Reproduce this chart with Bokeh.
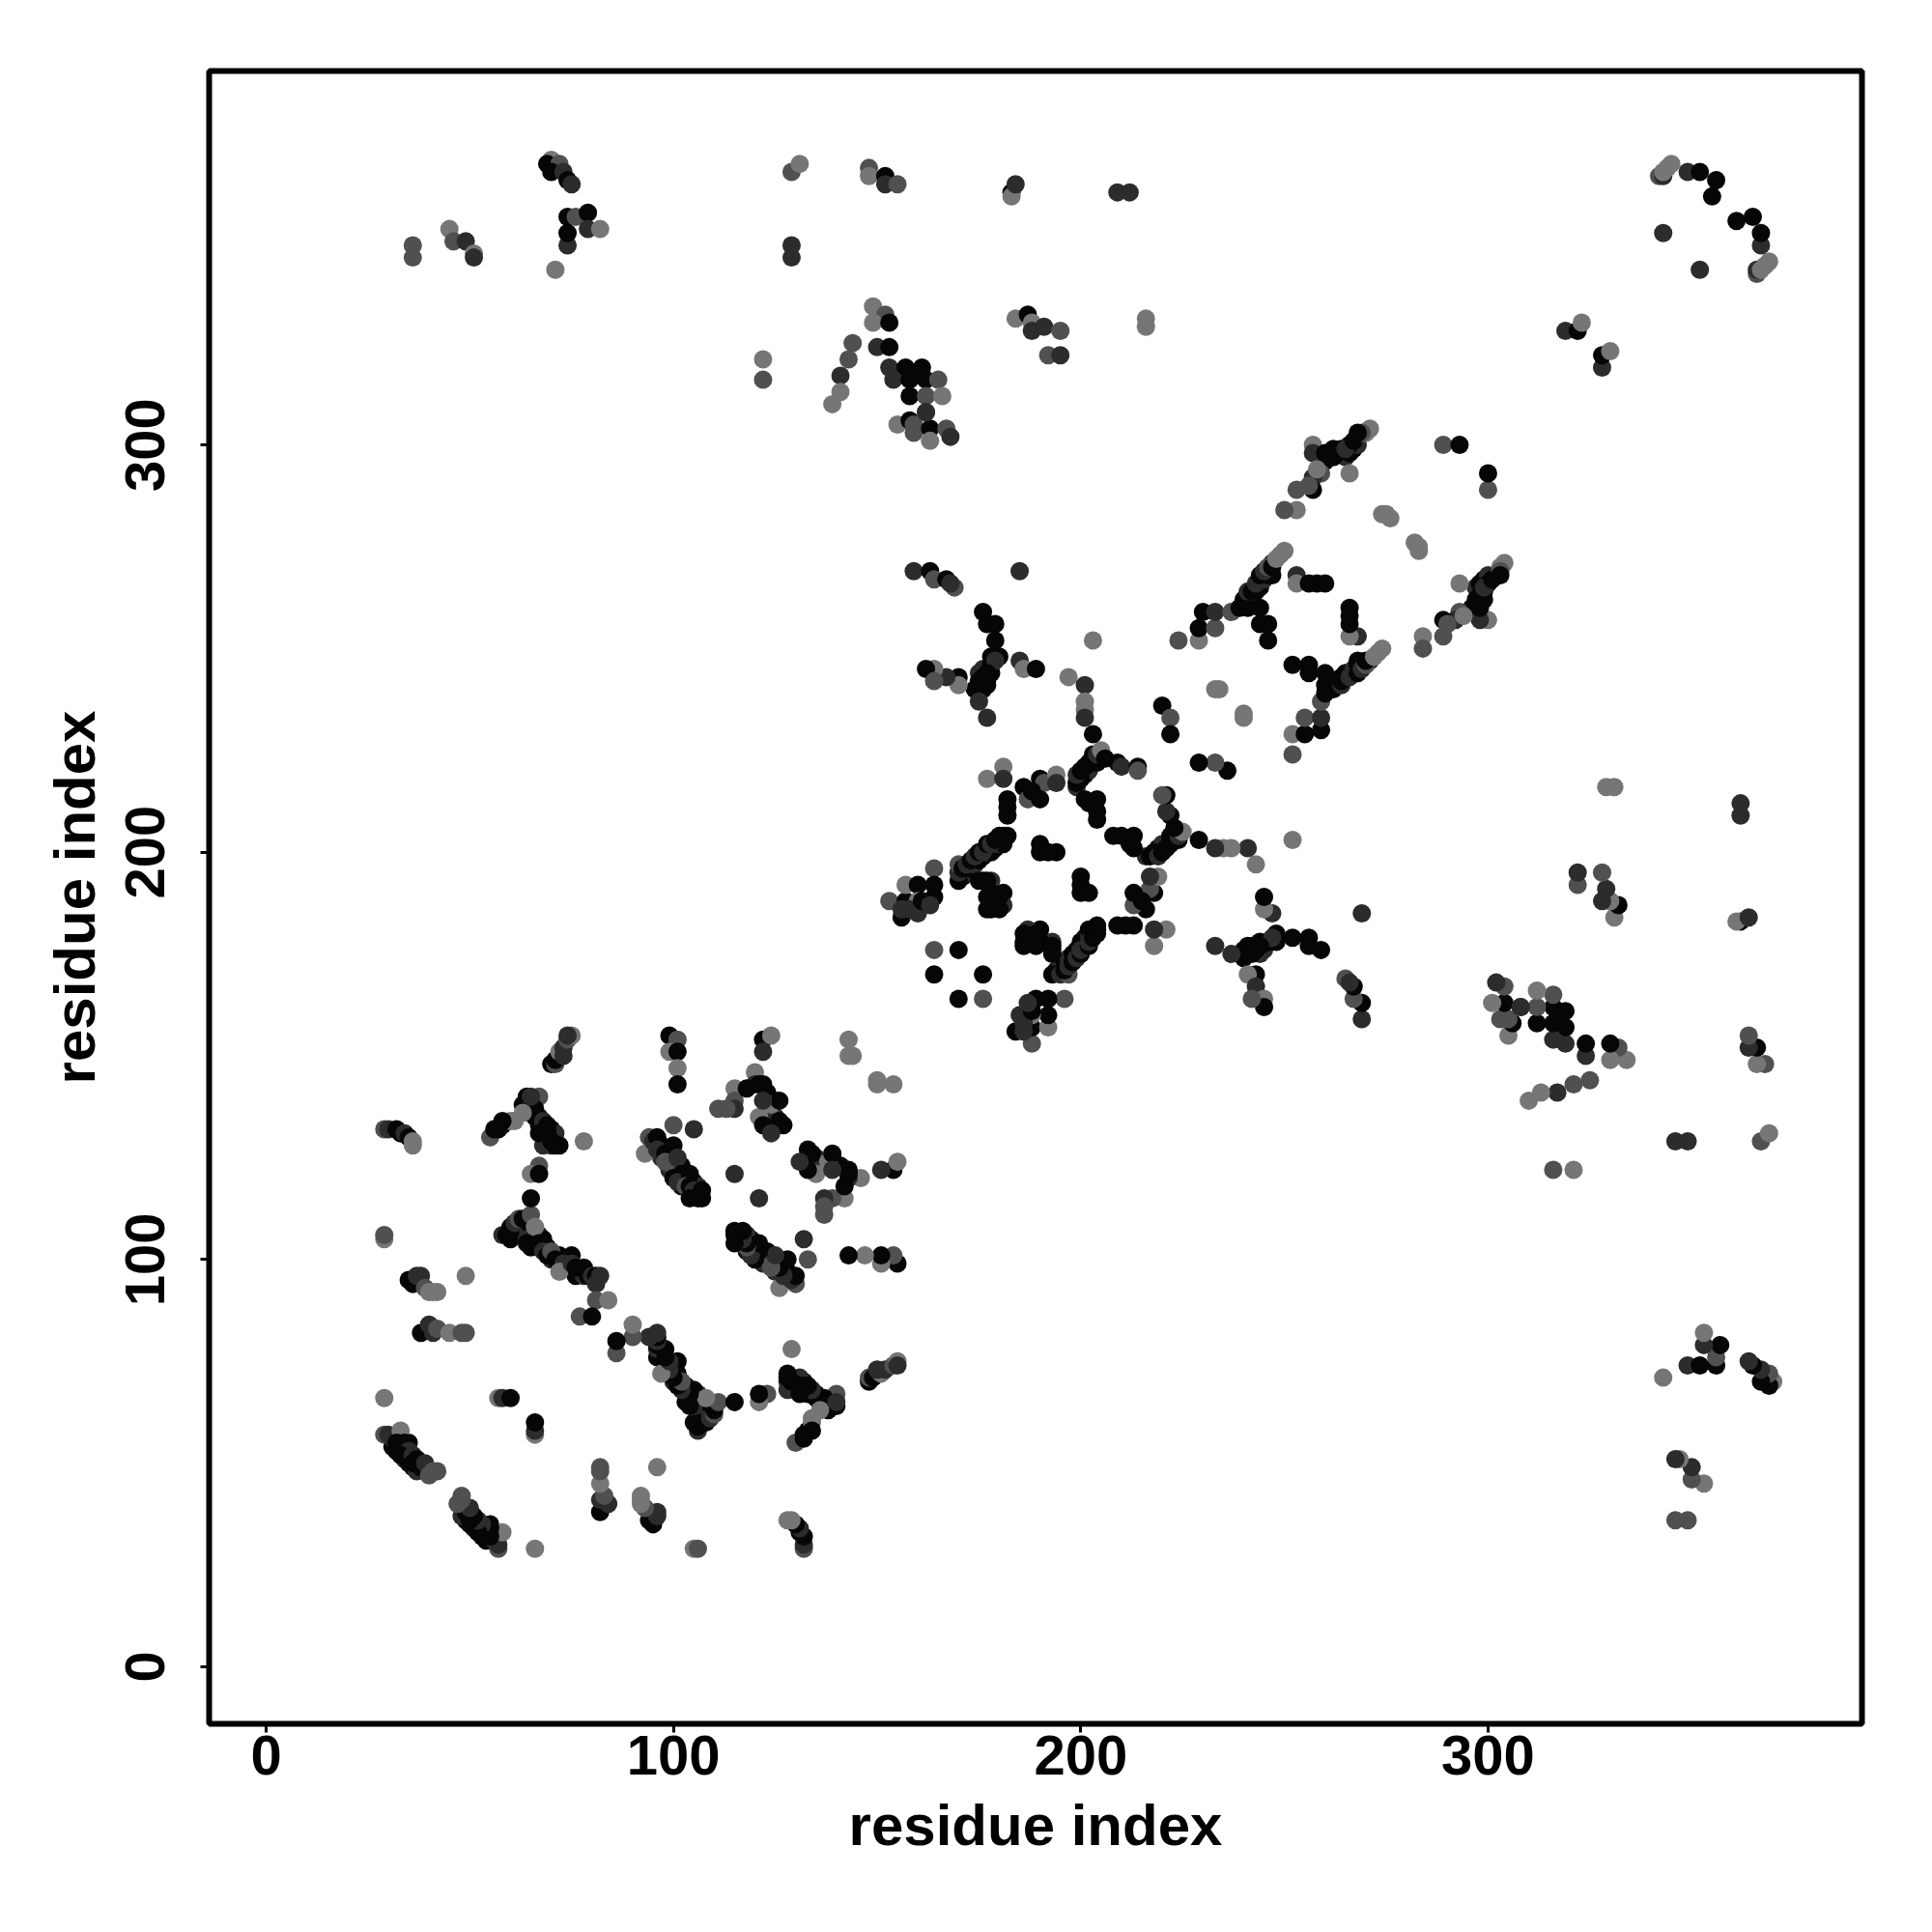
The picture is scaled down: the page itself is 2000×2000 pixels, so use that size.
from bokeh.plotting import figure
from bokeh.embed import file_html
from bokeh.resources import INLINE
from bokeh.models import ColumnDataSource, FixedTicker, Range1d

# Contacts are read from the upper triangle (i < j); the map is symmetric.
# s = shade class: 0 black, 1 dark, 2 mid, 3 light grey
# Contacts packed under the dense strips (drawn first)
fill_i = [60,61,62,63,65,66,67,68,69,70,72,74,75,76,78,64,65,66,67,68,70,71,69,70,31,32,34,35,36,37,33,35,97,99,99,100,102,103,105,106,106,102,171,172,173,174,175,176,177,178,179,180,181,241,242,243,244,245,246,247,247,260,261,262,264,265,266,267,268,200,201,202,203,204,199,174,175,177,178,176,178,177]
fill_j = [105,107,107,106,108,104,106,105,103,100,101,98,101,96,96,137,138,135,133,133,132,131,131,128,54,53,51,50,49,48,56,55,125,124,122,125,123,120,119,117,118,118,194,195,196,197,198,199,200,200,201,202,202,262,262,264,265,267,268,271,268,296,298,299,299,297,298,299,300,219,219,220,222,222,216,240,244,242,244,245,248,241]
fill_s = [0,1,0,1,0,0,1,0,0,1,0,1,0,0,1,0,1,0,0,1,0,1,0,1,0,0,1,0,0,1,1,0,1,0,1,0,0,1,0,0,1,0,0,1,0,1,0,0,1,0,0,1,0,0,1,0,0,1,0,1,0,0,1,0,0,1,0,0,1,0,0,1,0,0,1,0,1,0,0,1,0,0]

a_i = [29,30,31,33,32,33,34,35,33,36,36,37,38,39,40,41,42]
a_j = [57,57,56,58,55,54,55,53,52,52,50,51,49,50,47,48,48]
a_s = [2,1,1,3,0,0,0,1,0,1,0,0,0,1,2,2,2]

b_i = [29,30,32,33,34,35,36,36,29,29,29,35,36,37,38,39,40,41,42,49,38,41,40,42,45,48,49,57,58,60]
b_j = [132,132,132,131,131,130,129,128,105,106,66,95,94,96,96,93,92,92,92,96,82,82,84,83,82,82,82,66,66,66]
b_s = [2,1,0,0,1,0,3,3,3,2,3,0,0,1,1,2,3,3,3,3,0,1,1,2,3,2,2,3,1,0]

c_i = [58,59,60,60,61,62,63,64,65,66,64,65,67,68,69,70,71,73,72,75,76,78,79,80,81,82,81,81,84,77,80]
c_j = [106,106,106,108,109,110,110,105,111,108,104,103,104,102,101,102,100,99,97,99,98,98,96,96,96,96,94,90,90,86,86]
c_s = [1,0,0,0,1,2,0,1,2,3,0,0,0,1,0,2,0,1,3,1,0,0,0,1,0,1,1,2,3,2,0]

d_i = [55,56,58,60,63,64,65,66,67,66,67,68,69,68,69,68,70,72,71,78,67,65,67,65,63,61,58,57,65,67,69]
d_j = [130,132,133,134,138,140,136,139,140,137,135,134,133,131,129,128,129,128,128,129,123,121,121,115,136,134,134,132,140,131,132]
d_s = [2,0,0,3,0,0,0,0,2,0,0,1,0,1,1,1,0,0,0,3,2,3,0,0,3,3,0,0,1,0,0]

e_i = [70,71,71,72,73,73,74,75,74]
e_j = [148,148,149,151,152,150,154,155,155]
e_s = [0,2,0,3,1,1,2,3,1]

f_i = [94,93,95,96,97,96,98,100,98,100,101,102,100,101,104,103,104,105,104,106,107,107,100,105,115]
f_j = [130,126,129,130,128,127,126,128,124,123,125,121,120,119,121,118,118,117,115,115,115,117,133,132,121]
f_s = [2,3,1,0,0,1,0,0,2,2,1,0,0,1,0,2,0,1,0,0,0,0,2,1,1]

g_i = [99,101,99,101,101,101,122,124,122,143,143,144]
g_j = [155,154,151,151,147,143,154,155,151,154,150,150]
g_s = [0,2,3,0,3,0,0,3,1,3,3,3]

h_i = [120,120,121,123,125,123,124,127,125,115,115,115,111,113,121,122,126,124,124,126,122,118,122]
h_j = [146,143,143,141,139,135,135,133,135,142,139,137,137,137,135,133,134,138,131,139,143,142,139]
h_s = [3,1,0,0,0,0,3,0,1,3,2,1,2,2,3,0,0,3,1,0,0,0,1]

k_i = [153,156,157,157,160,160,160,158,161,164,164,164,163,156]
k_j = [188,184,188,192,192,188,185,186,188,196,192,189,187,186]
k_s = [2,0,0,3,0,3,1,1,0,2,0,0,1,1]

m_i = [170,170,170,171,172,173,174,175,176,177,178,179,180,181,182]
m_j = [193,195,197,196,197,198,199,200,200,202,202,203,204,204,204]
m_s = [0,1,2,0,1,0,1,0,1,0,1,0,0,0,0]

n_i = [176,178,178,181,178,181,180,177,177,180,177,175,164,170,164]
n_j = [193,193,190,190,186,187,186,186,189,189,193,193,176,176,170]
n_s = [0,1,0,0,0,1,0,0,0,0,0,0,2,0,0]

p_i = [181,177,181,190,186,191,194,187,190,182,182,182,194,188]
p_j = [221,218,218,218,216,217,219,213,213,213,211,209,217,215]
p_s = [3,3,1,0,0,2,3,2,0,0,0,0,1,0]

q_i = [199,200,199,200,201,202,203,204,205,206,209,210,214,214,201,204,204,202,190,190,194,192,204]
q_j = [217,218,219,220,221,222,224,224,225,223,222,221,221,220,213,213,210,212,202,200,200,200,208]
q_s = [0,0,1,0,0,0,0,1,3,0,0,1,0,2,0,0,0,0,0,0,0,0,0]

r_i = [176,177,179,179,180,178,179,176,175,176,177,170,170,167,164,162,164,175,177,185,186,189,197,201,201,201,201,203,203]
r_j = [259,256,256,252,248,246,247,243,242,240,244,243,241,243,245,245,242,237,233,247,245,245,243,241,237,235,233,229,252]
r_s = [0,0,0,0,0,0,1,0,0,0,0,0,3,1,3,0,2,1,1,1,3,0,3,1,3,3,1,0,3]

t_i = [159,163,164,167,169,168,185]
t_j = [269,269,267,267,265,266,269]
t_s = [1,0,2,0,2,1,1]

u_i = [220,222,222,224,229,229,233,230,233,237,239,244,244,246,246,241]
u_j = [236,233,229,252,252,255,255,259,259,259,260,260,256,256,252,260]
u_s = [0,2,0,2,3,0,2,0,1,2,0,0,0,0,0,0]

v_i = [240,241,242,243,244,245,246,247,248,249,250,253,253,256,258,260,233,234]
v_j = [262,264,264,266,268,269,270,270,272,273,274,268,266,266,266,266,240,240]
v_s = [0,1,0,1,0,1,2,0,3,3,3,1,3,0,0,0,3,3]

w_i = [257,257,260,262,263,266,268,271,270,266,259,257,257,253,253,250,265,267,269,268,258,256,289,293,274,275,276]
w_j = [300,298,298,297,298,300,302,304,303,293,293,292,289,289,284,284,299,301,303,303,294,290,300,300,283,283,282]
w_s = [3,1,0,0,0,0,1,3,3,3,2,1,0,2,3,2,1,0,2,0,3,2,2,0,3,3,3]

x_i = [36,36,45,46,49,51,51,70,69,72,70,73,74,75,71,74,74,74,76,79,79,82]
x_j = [349,346,353,350,350,347,346,370,369,369,367,367,365,364,343,349,352,356,356,357,353,353]
x_s = [2,2,3,2,1,3,1,3,0,2,0,1,0,1,3,1,0,0,2,0,1,3]

y_i = [129,131,129,129,148,148,152,152,155,183,183,184,209,212,216,216]
y_j = [367,369,349,346,368,366,366,364,364,362,361,364,362,362,331,329]
y_s = [2,3,1,1,2,3,0,1,2,0,3,1,1,1,3,3]

z_i = [149,152,149,153,144,143,141,141,139,122,122,150,153,153,157,161,154,158,162,165,158,162,166,162]
z_j = [334,332,330,330,325,321,317,313,310,321,316,324,324,319,319,319,316,316,316,316,312,312,312,308]
z_s = [3,2,3,0,2,2,1,3,3,3,2,1,0,1,0,0,1,0,0,2,0,2,3,1]

zz_i = [155,158,159,159,163,163,167,168,162,184,187,188,188,191,195,192,195]
zz_j = [305,306,305,303,304,301,304,302,308,331,332,330,328,329,328,322,322]
zz_s = [3,0,2,2,0,3,2,1,1,3,0,3,1,1,2,2,1]

tr_i = [342,343,345,349,352,356,355,343,343,344,319,322,323]
tr_j = [366,366,369,367,367,365,361,352,367,368,328,328,330]
tr_s = [2,1,3,1,0,0,0,1,3,3,1,0,3]

groups = [
    (fill_i, fill_j, fill_s),
    (a_i, a_j, a_s), (b_i, b_j, b_s), (c_i, c_j, c_s), (d_i, d_j, d_s), (e_i, e_j, e_s),
    (f_i, f_j, f_s), (g_i, g_j, g_s), (h_i, h_j, h_s), (k_i, k_j, k_s), (m_i, m_j, m_s),
    (n_i, n_j, n_s), (p_i, p_j, p_s), (q_i, q_j, q_s), (r_i, r_j, r_s), (t_i, t_j, t_s),
    (u_i, u_j, u_s), (v_i, v_j, v_s), (w_i, w_j, w_s), (x_i, x_j, x_s), (y_i, y_j, y_s),
    (z_i, z_j, z_s), (zz_i, zz_j, zz_s), (tr_i, tr_j, tr_s),
]
tick_values = [0, 100, 200, 300]
axis_title = "residue index"
shade_colors = ["#060606", "#2c2c2c", "#505050", "#767676"]

xs, ys, cs = [], [], []
for gi, gj, gs in groups:
    for i, j, s in zip(gi, gj, gs, strict=True):
        xs += [i, j]
        ys += [j, i]
        cs += [shade_colors[s], shade_colors[s]]

p = figure(width=1984, height=1984, output_backend="svg", toolbar_location=None,
           x_range=Range1d(-14, 391.8), y_range=Range1d(-14, 391.8),
           min_border_left=216, min_border_right=57, min_border_top=73, min_border_bottom=200)
p.background_fill_color = "white"
p.border_fill_color = "white"
p.grid.visible = False
p.outline_line_color = "black"
p.outline_line_width = 6

src = ColumnDataSource(dict(x=xs, y=ys, c=cs))
p.scatter("x", "y", source=src, size=19, fill_color="c", line_color=None, marker="circle")

for ax in (p.xaxis[0], p.yaxis[0]):
    ax.ticker = FixedTicker(ticks=tick_values)
    ax.axis_line_color = None
    ax.minor_tick_line_color = None
    ax.major_tick_in = 0
    ax.major_tick_out = 9
    ax.major_tick_line_width = 3
    ax.major_tick_line_color = "black"
    ax.major_label_text_font = "Liberation Sans"
    ax.major_label_text_font_style = "bold"
    ax.major_label_text_font_size = "58px"
    ax.major_label_text_color = "black"
    ax.axis_label = axis_title
    ax.axis_label_text_font = "Liberation Sans"
    ax.axis_label_text_font_style = "bold"
    ax.axis_label_text_font_size = "60px"
    ax.axis_label_text_color = "black"

p.xaxis[0].major_label_standoff = 3
p.xaxis[0].axis_label_standoff = 16
p.yaxis[0].major_label_orientation = "vertical"
p.yaxis[0].major_label_standoff = 37
p.yaxis[0].axis_label_standoff = 17

open("out.html", "w").write(file_html(p, INLINE))
